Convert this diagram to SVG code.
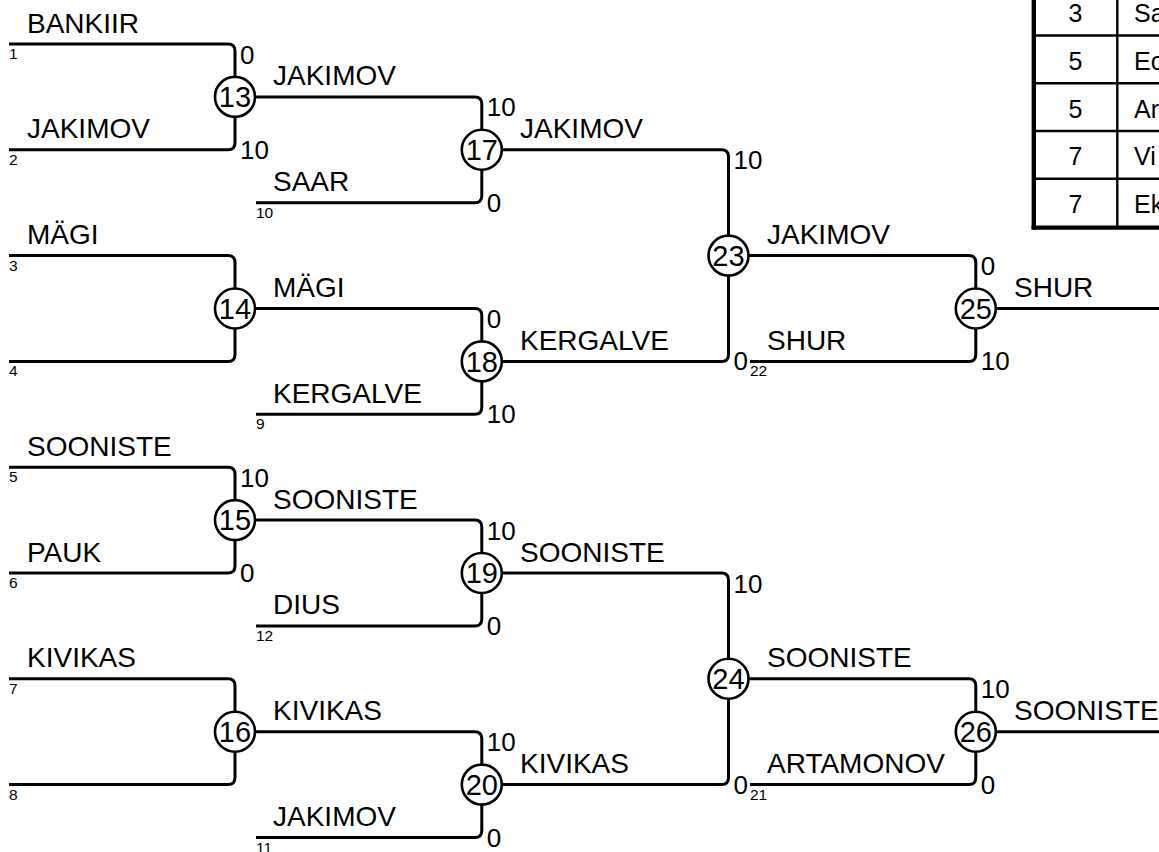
<svg xmlns="http://www.w3.org/2000/svg" width="1159" height="852" viewBox="0 0 1159 852">
<style>
text{font-family:"Liberation Sans",Arial,sans-serif;fill:#000}
.ln{fill:none;stroke:#000;stroke-width:3}
.nd circle{fill:#fff;stroke:#000;stroke-width:2.6}
.nd text{font-size:29px;text-anchor:middle}
.nm{font-size:28px}
.sc{font-size:26px}
.sm{font-size:15.5px}
.tb{font-size:25px}
.tl{stroke:#000;stroke-width:2.4}
.tk{stroke:#000;stroke-width:4.4}
</style>
<rect width="1159" height="852" fill="#fff"/>
<g id="connectors" class="ln">
<path d="M9 44H228Q235 44 235 51V96.9"/>
<path d="M9 149.8H228Q235 149.8 235 142.8V96.9"/>
<path d="M9 255.6H228Q235 255.6 235 262.6V308.5"/>
<path d="M9 361.4H228Q235 361.4 235 354.4V308.5"/>
<path d="M9 467.2H228Q235 467.2 235 474.2V520.1"/>
<path d="M9 573H228Q235 573 235 566V520.1"/>
<path d="M9 678.8H228Q235 678.8 235 685.8V731.7"/>
<path d="M9 784.6H228Q235 784.6 235 777.6V731.7"/>
<path d="M235 96.9H474.8Q481.8 96.9 481.8 103.9V149.8"/>
<path d="M256 202.7H474.8Q481.8 202.7 481.8 195.7V149.8"/>
<path d="M235 308.5H474.8Q481.8 308.5 481.8 315.5V361.4"/>
<path d="M256 414.3H474.8Q481.8 414.3 481.8 407.3V361.4"/>
<path d="M235 520.1H474.8Q481.8 520.1 481.8 527.1V573"/>
<path d="M256 625.9H474.8Q481.8 625.9 481.8 618.9V573"/>
<path d="M235 731.7H474.8Q481.8 731.7 481.8 738.7V784.6"/>
<path d="M256 837.5H474.8Q481.8 837.5 481.8 830.5V784.6"/>
<path d="M481.8 149.8H721.5Q728.5 149.8 728.5 156.8V255.6"/>
<path d="M481.8 361.4H721.5Q728.5 361.4 728.5 354.4V255.6"/>
<path d="M481.8 573H721.5Q728.5 573 728.5 580V678.8"/>
<path d="M481.8 784.6H721.5Q728.5 784.6 728.5 777.6V678.8"/>
<path d="M728.5 255.6H968.8Q975.8 255.6 975.8 262.6V308.5"/>
<path d="M750 361.4H968.8Q975.8 361.4 975.8 354.4V308.5"/>
<path d="M728.5 678.8H968.8Q975.8 678.8 975.8 685.8V731.7"/>
<path d="M750 784.6H968.8Q975.8 784.6 975.8 777.6V731.7"/>
<path d="M975.8 308.5H1162"/>
<path d="M975.8 731.7H1162"/>
</g>
<g id="n13" class="nd"><circle cx="235" cy="96.9" r="20"/><text x="235" y="107">13</text></g>
<g id="n14" class="nd"><circle cx="235" cy="308.5" r="20"/><text x="235" y="318.6">14</text></g>
<g id="n15" class="nd"><circle cx="235" cy="520.1" r="20"/><text x="235" y="530.2">15</text></g>
<g id="n16" class="nd"><circle cx="235" cy="731.7" r="20"/><text x="235" y="741.8">16</text></g>
<g id="n17" class="nd"><circle cx="481.8" cy="149.8" r="20"/><text x="481.8" y="159.9">17</text></g>
<g id="n18" class="nd"><circle cx="481.8" cy="361.4" r="20"/><text x="481.8" y="371.5">18</text></g>
<g id="n19" class="nd"><circle cx="481.8" cy="573" r="20"/><text x="481.8" y="583.1">19</text></g>
<g id="n20" class="nd"><circle cx="481.8" cy="784.6" r="20"/><text x="481.8" y="794.7">20</text></g>
<g id="n23" class="nd"><circle cx="728.5" cy="255.6" r="20"/><text x="728.5" y="265.7">23</text></g>
<g id="n24" class="nd"><circle cx="728.5" cy="678.8" r="20"/><text x="728.5" y="688.9">24</text></g>
<g id="n25" class="nd"><circle cx="975.8" cy="308.5" r="20"/><text x="975.8" y="318.6">25</text></g>
<g id="n26" class="nd"><circle cx="975.8" cy="731.7" r="20"/><text x="975.8" y="741.8">26</text></g>
<g id="names" class="nm">
<text x="27" y="32.5">BANKIIR</text>
<text x="27" y="138.3">JAKIMOV</text>
<text x="27" y="244.1">MÄGI</text>
<text x="27" y="455.7">SOONISTE</text>
<text x="27" y="561.5">PAUK</text>
<text x="27" y="667.3">KIVIKAS</text>
<text x="273" y="85.4">JAKIMOV</text>
<text x="273" y="191.2">SAAR</text>
<text x="273" y="297">MÄGI</text>
<text x="273" y="402.8">KERGALVE</text>
<text x="273" y="508.6">SOONISTE</text>
<text x="273" y="614.4">DIUS</text>
<text x="273" y="720.2">KIVIKAS</text>
<text x="273" y="826">JAKIMOV</text>
<text x="520" y="138.3">JAKIMOV</text>
<text x="520" y="349.9">KERGALVE</text>
<text x="520" y="561.5">SOONISTE</text>
<text x="520" y="773.1">KIVIKAS</text>
<text x="767" y="244.1">JAKIMOV</text>
<text x="767" y="349.9">SHUR</text>
<text x="767" y="667.3">SOONISTE</text>
<text x="767" y="773.1">ARTAMONOV</text>
<text x="1014" y="296.5">SHUR</text>
<text x="1014" y="719.7">SOONISTE</text>
</g>
<g id="seeds" class="sm">
<text x="9" y="59">1</text>
<text x="9" y="164.8">2</text>
<text x="9" y="270.6">3</text>
<text x="9" y="376.4">4</text>
<text x="9" y="482.2">5</text>
<text x="9" y="588">6</text>
<text x="9" y="693.8">7</text>
<text x="9" y="799.6">8</text>
<text x="256" y="217.7">10</text>
<text x="256" y="429.3">9</text>
<text x="256" y="640.9">12</text>
<text x="256" y="852.5">11</text>
<text x="750" y="376.4">22</text>
<text x="750" y="799.6">21</text>
</g>
<g id="scores" class="sc">
<text x="240" y="63.5">0</text>
<text x="240" y="158.8">10</text>
<text x="240" y="486.7">10</text>
<text x="240" y="582">0</text>
<text x="486.8" y="116.4">10</text>
<text x="486.8" y="211.7">0</text>
<text x="486.8" y="328">0</text>
<text x="486.8" y="423.3">10</text>
<text x="486.8" y="539.6">10</text>
<text x="486.8" y="634.9">0</text>
<text x="486.8" y="751.2">10</text>
<text x="486.8" y="846.5">0</text>
<text x="733.5" y="169.3">10</text>
<text x="733.5" y="370.4">0</text>
<text x="733.5" y="592.5">10</text>
<text x="733.5" y="793.6">0</text>
<text x="980.8" y="275.1">0</text>
<text x="980.8" y="370.4">10</text>
<text x="980.8" y="698.3">10</text>
<text x="980.8" y="793.6">0</text>
</g>
<g id="table">
<line class="tl" x1="1034" y1="35.5" x2="1159" y2="35.5"/>
<line class="tl" x1="1034" y1="83.3" x2="1159" y2="83.3"/>
<line class="tl" x1="1034" y1="131" x2="1159" y2="131"/>
<line class="tl" x1="1034" y1="178.8" x2="1159" y2="178.8"/>
<line class="tl" x1="1117.3" y1="0" x2="1117.3" y2="227.6"/>
<line class="tk" x1="1033.8" y1="0" x2="1033.8" y2="229.8"/>
<line class="tk" x1="1031.6" y1="227.6" x2="1159" y2="227.6"/>
<g class="tb" text-anchor="middle">
<text x="1075.5" y="22">3</text>
<text x="1075.5" y="69.8">5</text>
<text x="1075.5" y="117.5">5</text>
<text x="1075.5" y="165.3">7</text>
<text x="1075.5" y="213">7</text>
</g>
<g class="tb">
<text x="1134" y="22">Sa</text>
<text x="1134" y="69.8">Ec</text>
<text x="1134" y="117.5">Ar</text>
<text x="1134" y="165.3">Vi</text>
<text x="1134" y="213">Ek</text>
</g>
</g>
</svg>
